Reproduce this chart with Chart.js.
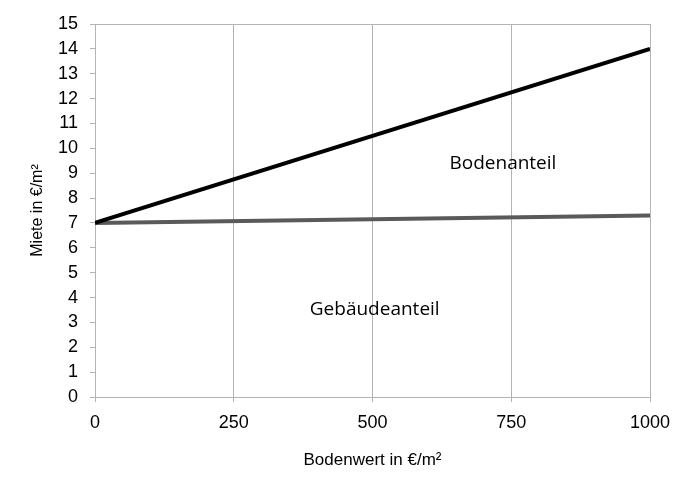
<!DOCTYPE html>
<html>
<head>
<meta charset="utf-8">
<script src="https://cdn.jsdelivr.net/npm/chart.js@4.4.0/dist/chart.umd.min.js"></script>
<style>
  html, body { margin: 0; padding: 0; background: #fff; }
  #wrap { width: 694px; height: 487px; }
</style>
</head>
<body>
<div id="wrap"><canvas id="chart"></canvas></div>
<script>
// Bodenwert (x) und Miete (y)
var bodenwert = [0, 1000];
var mieteGesamt = [7, 14];
var mieteGebaeude = [7, 7.3];
var xTicks = [0, 250, 500, 750, 1000];
var yMin = 0, yMax = 15;

// Beschriftungen im Diagramm
var labelTexts = ['Bodenanteil', 'Gebäudeanteil'];
var labelX = [735, 504];
var labelY = [9.4, 3.5];

function toPoints(xs, ys) {
  return xs.map(function(x, i) { return { x: x, y: ys[i] }; });
}

var gridGray = '#b3b3b3';

// Texte im Diagramm
var textPlugin = {
  id: 'texte',
  afterDatasetsDraw: function(chart) {
    var ctx = chart.ctx;
    var xs = chart.scales.x, ys = chart.scales.y;
    ctx.save();
    ctx.font = '19px "Open Sans", Lato, sans-serif';
    ctx.fillStyle = '#000';
    ctx.textAlign = 'center';
    ctx.textBaseline = 'middle';
    for (var i = 0; i < labelTexts.length; i++) {
      ctx.fillText(labelTexts[i], xs.getPixelForValue(labelX[i]), ys.getPixelForValue(labelY[i]));
    }
    ctx.restore();
  }
};

var ctx = document.getElementById('chart').getContext('2d');
var myChart = new Chart(ctx, {
  type: 'line',
  data: {
    datasets: [
      {
        label: 'Gesamt',
        data: toPoints(bodenwert, mieteGesamt),
        borderColor: '#000000',
        borderWidth: 4,
        pointRadius: 0,
        fill: false
      },
      {
        label: 'Gebäude',
        data: toPoints(bodenwert, mieteGebaeude),
        borderColor: '#5a5a5a',
        borderWidth: 4,
        pointRadius: 0,
        fill: false
      }
    ]
  },
  options: {
    responsive: true,
    maintainAspectRatio: false,
    animation: false,
    devicePixelRatio: 1,
    layout: { padding: { left: 0, right: 44, top: 24, bottom: 0 } },
    plugins: {
      legend: { display: false },
      tooltip: { enabled: false }
    },
    scales: {
      x: {
        type: 'linear',
        min: 0,
        max: 1000,
        afterBuildTicks: function(scale) {
          scale.ticks = xTicks.map(function(v) { return { value: v }; });
        },
        afterFit: function(scale) { scale.height = 90; },
        grid: { color: gridGray, lineWidth: 1, tickLength: 5, tickColor: gridGray },
        border: { color: gridGray, width: 1 },
        ticks: {
          color: '#000',
          padding: 10,
          maxRotation: 0,
          callback: function(v) { return String(v); },
          font: { family: '"Liberation Sans", Arial, sans-serif', size: 18 }
        },
        title: {
          display: true,
          text: 'Bodenwert in €/m²',
          color: '#000',
          padding: { top: 4, bottom: 16 },
          font: { family: '"Liberation Sans", Arial, sans-serif', size: 17 }
        }
      },
      y: {
        type: 'linear',
        min: yMin,
        max: yMax,
        afterFit: function(scale) { scale.width = 95; },
        grid: {
          color: function(c) { return c.tick && c.tick.value === yMax ? gridGray : 'rgba(0,0,0,0)'; },
          lineWidth: 1,
          tickLength: 5,
          tickColor: gridGray
        },
        border: { color: gridGray, width: 1 },
        ticks: {
          stepSize: 1,
          color: '#000',
          padding: 12,
          font: { family: '"Liberation Sans", Arial, sans-serif', size: 18 }
        },
        title: {
          display: true,
          text: 'Miete in €/m²',
          color: '#000',
          padding: { top: 28, bottom: 0 },
          font: { family: '"Liberation Sans", Arial, sans-serif', size: 16 }
        }
      }
    }
  },
  plugins: [textPlugin]
});
</script>
</body>
</html>
